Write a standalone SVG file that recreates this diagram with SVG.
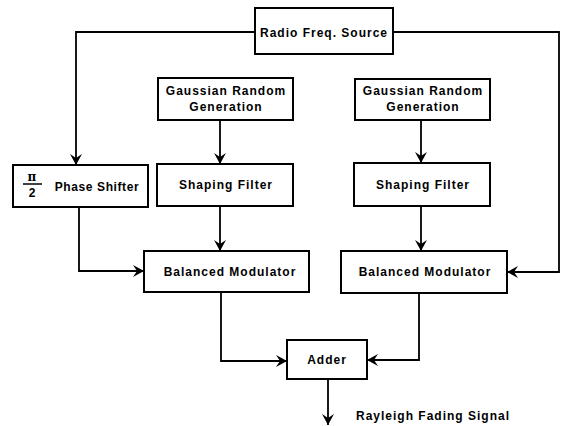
<svg xmlns="http://www.w3.org/2000/svg" width="569" height="426" viewBox="0 0 569 426">
<defs>
<marker id="arr" viewBox="-2 -7 14 14" refX="10" refY="0" markerWidth="14" markerHeight="14" markerUnits="userSpaceOnUse" orient="auto">
<path d="M-1,-6 L10,0 L-1,6 L3,0 Z" fill="#000"/>
</marker>
<style>
.box{fill:#fff;stroke:#000;stroke-width:2}
.t{font-family:"Liberation Sans",Arial,sans-serif;font-weight:bold;font-size:12px;letter-spacing:1px;fill:#000;text-anchor:middle}
.c{fill:none;stroke:#000;stroke-width:1.8}
</style>
</defs>
<rect width="569" height="426" fill="#fff"/>
<g id="connectors">
<polyline class="c" points="255,32 76,32 76,165" marker-end="url(#arr)"/>
<polyline class="c" points="393,32 559,32 559,272 507,272" marker-end="url(#arr)"/>
<line class="c" x1="220" y1="120" x2="220" y2="164" marker-end="url(#arr)"/>
<line class="c" x1="421" y1="120" x2="421" y2="163" marker-end="url(#arr)"/>
<line class="c" x1="220" y1="206" x2="220" y2="251" marker-end="url(#arr)"/>
<line class="c" x1="421" y1="206" x2="421" y2="251" marker-end="url(#arr)"/>
<polyline class="c" points="79,207 79,271 144,271" marker-end="url(#arr)"/>
<polyline class="c" points="221,292 221,361 287,361" marker-end="url(#arr)"/>
<polyline class="c" points="419,293 419,360 367,360" marker-end="url(#arr)"/>
<line class="c" x1="328" y1="379" x2="328" y2="425" marker-end="url(#arr)"/>
</g>
<g id="radio">
<rect class="box" x="255" y="8" width="138" height="46"/>
<text class="t" x="324" y="37">Radio Freq.  Source</text>
</g>
<g id="grg1">
<rect class="box" x="158" y="78" width="135" height="42"/>
<text class="t" x="226" y="95">Gaussian Random</text>
<text class="t" x="226" y="111">Generation</text>
</g>
<g id="grg2">
<rect class="box" x="355" y="79" width="135" height="41"/>
<text class="t" x="423" y="95">Gaussian Random</text>
<text class="t" x="423" y="111">Generation</text>
</g>
<g id="phase">
<rect class="box" x="13" y="165" width="135" height="42"/>
<text class="t" x="32" y="181" style="font-family:'DejaVu Serif',serif;font-size:12px;letter-spacing:0">π</text>
<line x1="23" y1="184" x2="42" y2="184" stroke="#000" stroke-width="1.5"/>
<text class="t" x="32" y="197" style="letter-spacing:0">2</text>
<text class="t" x="97" y="191" style="letter-spacing:0.6px">Phase Shifter</text>
</g>
<g id="sf1">
<rect class="box" x="157" y="164" width="136" height="42"/>
<text class="t" x="226" y="189">Shaping Filter</text>
</g>
<g id="sf2">
<rect class="box" x="354" y="163" width="136" height="43"/>
<text class="t" x="423" y="189">Shaping Filter</text>
</g>
<g id="bm1">
<rect class="box" x="144" y="251" width="165" height="41"/>
<text class="t" x="230" y="276">Balanced Modulator</text>
</g>
<g id="bm2">
<rect class="box" x="341" y="251" width="166" height="42"/>
<text class="t" x="425" y="276">Balanced Modulator</text>
</g>
<g id="adder">
<rect class="box" x="287" y="340" width="80" height="39"/>
<text class="t" x="327" y="364">Adder</text>
</g>
<g id="output-label">
<text class="t" x="356" y="420" style="text-anchor:start">Rayleigh Fading Signal</text>
</g>
</svg>
